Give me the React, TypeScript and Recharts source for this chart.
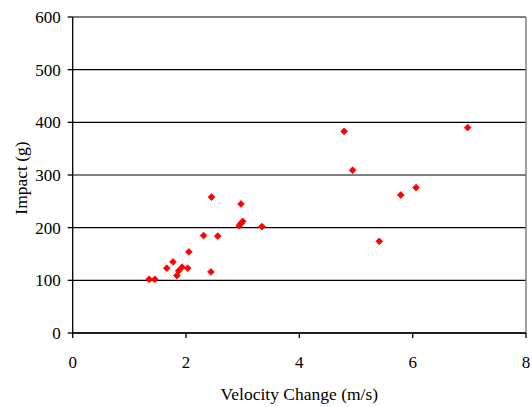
import React from 'react'
import { ScatterChart, Scatter, XAxis, YAxis, CartesianGrid, ReferenceLine, Label } from 'recharts'

// velocity change (m/s) and peak impact (g), one entry per test
const velocity = [
  1.35, 1.45, 1.66, 1.77, 1.84, 1.87, 1.93, 2.03, 2.05, 2.31,
  2.44, 2.45, 2.56, 2.94, 2.97, 3.0, 2.97, 3.34, 4.79, 4.94,
  5.41, 5.79, 6.06, 6.97,
]
const impact = [
  102, 102, 123, 135, 109, 118, 125, 123, 154, 185,
  116, 258, 184, 204, 208, 212, 245, 202, 383, 309,
  174, 262, 276, 390,
]

const xTicks = [0, 2, 4, 6, 8]
const yTicks = [0, 100, 200, 300, 400, 500, 600]

const data = velocity.map((v, i) => ({ v, g: impact[i] }))

const font = '"Liberation Serif", "Times New Roman", serif'
const tickStyle = { fontFamily: font, fontSize: 17, fill: '#000' }

// excel-style square diamond marker
const Diamond = (props: any) => {
  const { cx, cy } = props
  const r = 3.4
  return (
    <polygon
      points={`${cx},${cy - r} ${cx + r},${cy} ${cx},${cy + r} ${cx - r},${cy}`}
      fill="#FF0000"
      stroke="#FF0000"
      strokeWidth={0.8}
    />
  )
}

export default function App() {
  return (
    <div style={{ position: 'absolute', left: 0, top: 0, width: 532, height: 407, background: '#fff' }}>
      <ScatterChart width={532} height={407} margin={{ top: 17, right: 6, bottom: 0, left: 0 }}>
        <CartesianGrid vertical={false} stroke="#000" strokeWidth={1.2} />
        <ReferenceLine x={8} stroke="#808080" strokeWidth={1.5} ifOverflow="extendDomain" />
        <XAxis
          type="number"
          dataKey="v"
          domain={[0, 8]}
          ticks={xTicks}
          height={74}
          stroke="#000"
          strokeWidth={1.3}
          tickSize={5}
          tickMargin={18}
          tick={tickStyle}
        >
          <Label
            value="Velocity Change (m/s)"
            position="insideBottom"
            offset={7}
            style={{ fontFamily: font, fontSize: 17.5, fill: '#000', textAnchor: 'middle' }}
          />
        </XAxis>
        <YAxis
          type="number"
          dataKey="g"
          domain={[0, 600]}
          ticks={yTicks}
          width={72.7}
          stroke="#000"
          strokeWidth={1.3}
          tickSize={5}
          tickMargin={7}
          tick={tickStyle}
        >
          <Label
            content={(p: any) => {
              const vb = p.viewBox || { x: 0, y: 17, height: 316 }
              const cx = vb.x + 27
              const cy = vb.y + vb.height / 2 + 3
              return (
                <text
                  x={0}
                  y={0}
                  transform={`translate(${cx}, ${cy}) rotate(-90)`}
                  textAnchor="middle"
                  style={{ fontFamily: font, fontSize: 17.5, fill: '#000' }}
                >
                  Impact (g)
                </text>
              )
            }}
          />
        </YAxis>
        <Scatter data={data} shape={<Diamond />} isAnimationActive={false} />
      </ScatterChart>
    </div>
  )
}
